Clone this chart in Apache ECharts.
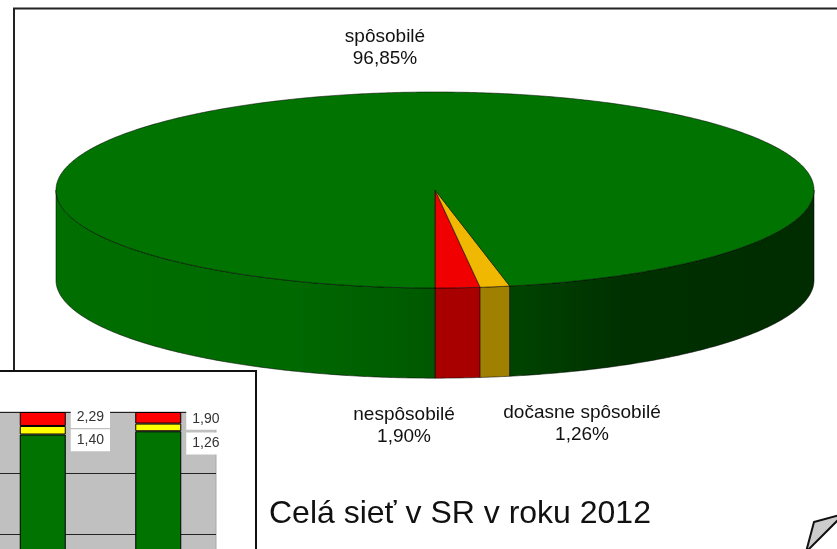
<!DOCTYPE html>
<html>
<head>
<meta charset="utf-8">
<title>Celá sieť v SR v roku 2012</title>
<style>
    html, body { margin: 0; padding: 0; background: #fff; overflow: hidden; }
    #chart { width: 837px; height: 549px; }
</style>
</head>
<body>
<div id="chart"></div>
<script src="https://cdn.jsdelivr.net/npm/echarts@6/dist/echarts.min.js"></script>
<script>
// podiely v kolaci, v poradi od spodku kolaca
const pieNames = ['nespôsobilé', 'dočasne spôsobilé', 'spôsobilé'];
const pieValues = [1.90, 1.26, 96.85];
const pieTops = ['#f00000', '#f0b800', '#007300'];
const pieLabelPos = [[404, 426], [582, 424], [385, 48]];

// maly graf vlavo dole
const barCats = ['A', 'B'];
const barGreen = [96.31, 96.84];
const barYellow = [1.40, 1.26];
const barRed = [2.29, 1.90];
const redLabelOffset = [[0, -2], [0, 1]];
const yellowLabelOffset = [[0, 10], [0, 16]];

const titleText = 'Celá sieť v SR v roku 2012';

const depth = 0.92; // vyska valca v jednotkach osi y
const total = pieValues.reduce((a, b) => a + b, 0);

let comma = v => v.toFixed(2).replace('.', ',');

// bod na kruhu, uhol sa meria od spodku smerom doprava
function pt(api, a, drop) {
    return api.coord([Math.sin(a), -Math.cos(a) - (drop || 0)]);
}
function arc(api, from, to, drop) {
    let pts = [];
    let n = Math.max(2, Math.ceil(Math.abs(to - from) / 0.01));
    for (let i = 0; i <= n; i++) {
        pts.push(pt(api, from + (to - from) * i / n, drop));
    }
    return pts;
}

const sideFill = [
    '#a80000',
    '#a08000',
    new echarts.graphic.LinearGradient(56, 0, 814, 0, [
        { offset: 0, color: '#006e00' },
        { offset: 0.3, color: '#006a00' },
        { offset: 0.5, color: '#005800' },
        { offset: 0.6, color: '#004400' },
        { offset: 0.75, color: '#003000' },
        { offset: 1, color: '#002c00' }
    ], true)
];

function renderSlice(params, api) {
    let i = params.dataIndex;
    let before = 0;
    for (let k = 0; k < i; k++) before += pieValues[k];
    let from = before / total * Math.PI * 2;
    let to = (before + api.value(0)) / total * Math.PI * 2;
    let edge = { stroke: 'rgba(0,0,0,0.75)', lineWidth: 0.7 };
    let children = [];

    // bocna stena je vidiet len na prednej polovici
    [[0, Math.PI / 2], [Math.PI * 1.5, Math.PI * 2]].forEach(range => {
        let a = Math.max(from, range[0]);
        let b = Math.min(to, range[1]);
        if (a >= b) return;
        children.push({
            type: 'polygon',
            shape: { points: arc(api, a, b, 0).concat(arc(api, b, a, depth)) },
            style: Object.assign({ fill: sideFill[i] }, edge)
        });
    });
    // vrch
    children.push({
        type: 'polygon',
        z2: 5,
        shape: { points: [api.coord([0, 0])].concat(arc(api, from, to, 0)) },
        style: Object.assign({ fill: pieTops[i] }, edge)
    });
    return { type: 'group', children: children };
}

function barLabel(offsets) {
    return offsets.map(o => ({
        show: true,
        position: 'right',
        distance: 5,
        offset: o,
        color: '#333',
        fontFamily: 'Liberation Sans',
        fontSize: 14,
        backgroundColor: '#fff',
        padding: [4, 6, 4, 6],
        formatter: p => comma(p.value)
    }));
}
let redLabels = barLabel(redLabelOffset);
let yellowLabels = barLabel(yellowLabelOffset);

let myChart = echarts.init(document.getElementById('chart'));
let barBorder = { borderColor: '#000', borderWidth: 1 };

let pieTexts = pieNames.map((n, i) => ({
    type: 'text',
    z: 10,
    x: pieLabelPos[i][0],
    y: pieLabelPos[i][1],
    style: {
        text: n + '\n' + comma(pieValues[i]) + '%',
        align: 'center',
        verticalAlign: 'middle',
        fontFamily: 'Liberation Sans',
        fontSize: 19,
        lineHeight: 22,
        fill: '#111'
    }
}));

let option = {
    animation: false,
    backgroundColor: '#fff',
    grid: [
        { left: 56, width: 758, top: 92, height: 196, show: false },
        {
            left: -15, width: 231, top: 412, height: 183, show: true,
            outerBoundsMode: 'none',
            backgroundColor: '#c0c0c0', borderColor: '#a8a8a8', borderWidth: 1
        }
    ],
    xAxis: [
        { gridIndex: 0, type: 'value', min: -1, max: 1, show: false },
        {
            gridIndex: 1, type: 'category', data: barCats,
            axisLine: { show: false }, axisTick: { show: false }, axisLabel: { show: false }
        }
    ],
    yAxis: [
        { gridIndex: 0, type: 'value', min: -1, max: 1, show: false },
        {
            gridIndex: 1, type: 'value', min: 70, max: 100, interval: 10,
            axisLine: { show: false }, axisTick: { show: false }, axisLabel: { show: false },
            splitLine: { lineStyle: { color: '#222', width: 1 } }
        }
    ],
    graphic: [
        {
            type: 'rect', z: -2,
            shape: { x: 14, y: 8.5, width: 900, height: 700 },
            style: { fill: '#fff', stroke: '#222', lineWidth: 2 }
        },
        {
            type: 'rect', z: -1,
            shape: { x: -10, y: 371, width: 266, height: 300 },
            style: { fill: '#fff', stroke: '#111', lineWidth: 2 }
        },
        {
            type: 'polygon', z: 10,
            shape: { points: [[814, 522], [840, 515], [840, 518], [806, 552]] },
            style: { fill: '#cccccc', stroke: '#111', lineWidth: 2 }
        },
        {
            type: 'text', z: 10, x: 269, y: 514,
            style: {
                text: titleText,
                verticalAlign: 'middle',
                fontFamily: 'Liberation Sans',
                fontSize: 32,
                fill: '#111'
            }
        }
    ].concat(pieTexts),
    series: [
        {
            type: 'custom',
            xAxisIndex: 0,
            yAxisIndex: 0,
            renderItem: renderSlice,
            encode: { x: 0 },
            clip: false,
            data: pieValues.map(v => [v])
        },
        {
            type: 'bar', xAxisIndex: 1, yAxisIndex: 1, stack: 's', barWidth: 46,
            itemStyle: Object.assign({ color: '#007300' }, barBorder),
            data: barGreen
        },
        {
            type: 'bar', xAxisIndex: 1, yAxisIndex: 1, stack: 's', barWidth: 46,
            itemStyle: Object.assign({ color: '#ffff00' }, barBorder),
            data: barYellow.map((v, i) => ({ value: v, label: yellowLabels[i] }))
        },
        {
            type: 'bar', xAxisIndex: 1, yAxisIndex: 1, stack: 's', barWidth: 46,
            itemStyle: Object.assign({ color: '#ff0000' }, barBorder),
            data: barRed.map((v, i) => ({ value: v, label: redLabels[i] }))
        }
    ]
};
myChart.setOption(option);
</script>
</body>
</html>
